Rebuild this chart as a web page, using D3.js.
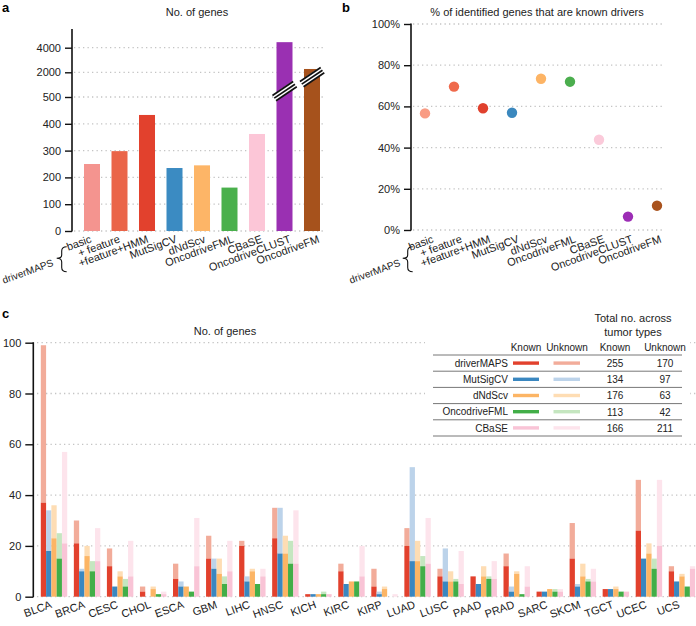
<!DOCTYPE html>
<html><head><meta charset="utf-8">
<script src="https://cdn.jsdelivr.net/npm/d3@7"></script>
<style>
html,body{margin:0;padding:0;background:#fff;}
svg{display:block;font-family:"Liberation Sans",Arial,Helvetica,sans-serif;}
.tick text{font-size:11px;fill:#222;}
</style></head>
<body>
<svg id="chart" width="696" height="626"></svg>
<script>
// ---------- Panel a / b data ----------
const methods = ["basic","+ feature","+feature+HMM","MutSigCV","dNdScv","OncodriveFML","CBaSE","OncodriveCLUST","OncodriveFM"];
const geneCounts = [250,298,433,235,245,162,362,4450,2270];
const knownPct = [56.6,69.6,59.1,56.9,73.4,72.0,43.8,6.5,11.8];
const colorsA = ["#f4948f","#ea6549","#e2412d","#3b8bc2","#fdb567","#4ab04c","#fcc6d7","#9a30b2","#a6521c"];
const colorsB = ["#f99c84","#ef6a4c","#e0412d","#3b88be","#fdb465","#4bae4e","#fbcada","#9c2db5","#a9531e"];
const aTicks = [0,100,200,300,400,500,2000,4000];
const bTicks = [0,20,40,60,80,100];
const brokenBars = ["OncodriveCLUST","OncodriveFM"];

// ---------- Panel c data ----------
const cancerTypes = ["BLCA","BRCA","CESC","CHOL","ESCA","GBM","LIHC","HNSC","KICH","KIRC","KIRP","LUAD","LUSC","PAAD","PRAD","SARC","SKCM","TGCT","UCEC","UCS"];
const cMethods = ["driverMAPS","MutSigCV","dNdScv","OncodriveFML","CBaSE"];
const driverMAPSKnown   = [37,21,12,2,7,15,20,23,1,10,4,20,8,8,12,2,15,3,26,10];
const driverMAPSUnknown = [62,9,7,2,6,9,2,12,0,3,7,7,3,0,5,0,14,0,20,2];
const mutSigCVKnown     = [18,10,4,0,4,11,6,17,1,5,1,14,6,5,2,2,4,3,15,6];
const mutSigCVUnknown   = [16,1,0,0,2,4,2,18,0,0,1,37,13,0,2,0,1,0,0,0];
const dNdScvKnown       = [23,16,8,3,4,9,10,17,1,6,3,14,6,8,9,3,8,3,17,8];
const dNdScvUnknown     = [13,4,2,1,0,6,1,7,0,0,1,8,4,4,1,0,5,1,4,1];
const fmlKnown          = [15,10,4,1,2,5,5,13,1,6,0,12,6,7,1,2,6,2,11,4];
const fmlUnknown        = [10,4,3,0,0,3,0,9,1,0,0,4,1,1,0,1,1,0,4,0];
const cbaseKnown        = [21,14,8,1,12,10,8,13,1,8,0,13,5,7,4,2,6,2,20,11];
const cbaseUnknown      = [36,13,14,1,19,12,3,21,0,12,1,18,13,7,8,1,5,0,26,1];
const knownColors   = ["#e2412d","#3a87c0","#fcb565","#42ae48","#f9c4d6"];
const unknownColors = ["#f2ac9a","#bcd3ea","#feddb4","#c5e6c0","#fde4ec"];
const totalKnown   = [255,134,176,113,166];
const totalUnknown = [170,97,63,42,211];
const cTicks = [0,20,40,60,80,100];

const knownByMethod = [driverMAPSKnown,mutSigCVKnown,dNdScvKnown,fmlKnown,cbaseKnown];
const unknownByMethod = [driverMAPSUnknown,mutSigCVUnknown,dNdScvUnknown,fmlUnknown,cbaseUnknown];

const svg = d3.select("#chart");
const GRID = "#c4c4c4";

function grid(g, ys, x0, x1){
  g.selectAll(null).data(ys).enter().append("line")
    .attr("x1",x0).attr("x2",x1).attr("y1",d=>d).attr("y2",d=>d)
    .attr("stroke",GRID).attr("stroke-width",1.3).attr("stroke-dasharray","1.3,3.2");
}
function styleAxis(g){
  g.select(".domain").remove();
  g.selectAll(".tick line").attr("stroke","#111").attr("stroke-width",1.4);
}
function brace(g, dx, tdx){
  const p = "M66.7,246.7 Q61.7,246.7 61.7,251 L61.7,255 Q61.7,258.3 56.7,258.3 Q61.7,258.3 61.7,262 L61.7,267.5 Q61.7,271.7 66.7,271.7";
  g.append("path").attr("d",p).attr("transform",`translate(${dx},0)`)
    .attr("fill","none").attr("stroke","#111").attr("stroke-width",1.1);
  g.append("text").attr("transform",`translate(${54+tdx},265.5) rotate(-20)`)
    .attr("text-anchor","end").attr("font-size",10).attr("fill","#222").text("driverMAPS");
}

// ================= Panel a =================
const ga = svg.append("g");
ga.append("text").attr("x",2).attr("y",12).attr("font-size",13).attr("font-weight","bold").text("a");
ga.append("text").attr("x",197).attr("y",16).attr("text-anchor","middle").attr("font-size",11).attr("fill","#222").text("No. of genes");
const yA = d3.scaleLinear().domain([0,500,2000,4000]).range([231,97,72.3,47.7]);
const xA = d3.scaleBand().domain(methods).range([75.75,328.25]).paddingInner(0.418).paddingOuter(0.3);
const xLabA = d3.scalePoint().domain(methods).range([92.3,320]);
grid(ga, aTicks.map(t=>yA(t)), 74, 323);
ga.selectAll("rect.bar").data(methods).enter().append("rect")
  .attr("x",d=>xA(d)).attr("width",xA.bandwidth())
  .attr("y",(d,i)=>yA(geneCounts[i])).attr("height",(d,i)=>yA(0)-yA(geneCounts[i]))
  .attr("fill",(d,i)=>colorsA[i]);
// axis break marks
const breakOffsets = [6,20];
brokenBars.forEach((m,k)=>{
  const cx = xA(m)+xA.bandwidth()/2, cy = yA(500)-breakOffsets[k];
  const bg = ga.append("g").attr("transform",`translate(${cx},${cy}) rotate(-34)`);
  bg.append("rect").attr("x",-12.5).attr("y",-3.6).attr("width",25).attr("height",7.2).attr("fill","#fff");
  [-3,0.2,3.4].forEach(o=>{ bg.append("line").attr("x1",-12.5).attr("x2",12.5).attr("y1",o).attr("y2",o).attr("stroke","#111").attr("stroke-width",1.7); });
});
const axA = ga.append("g").attr("transform","translate(72,0)")
  .call(d3.axisLeft(yA).tickValues(aTicks).tickSize(7).tickPadding(4).tickSizeOuter(0).tickFormat(d3.format("d")));
styleAxis(axA);
ga.append("line").attr("x1",72).attr("x2",72).attr("y1",29).attr("y2",231.5).attr("stroke","#111").attr("stroke-width",1.6);
ga.selectAll("text.xl").data(methods).enter().append("text")
  .attr("transform",d=>`translate(${xLabA(d)},242) rotate(-20)`)
  .attr("text-anchor","end").attr("font-size",11).attr("fill","#222").text(d=>d);
brace(ga,0,0);

// ================= Panel b =================
const gb = svg.append("g");
gb.append("text").attr("x",342).attr("y",12).attr("font-size",13).attr("font-weight","bold").text("b");
gb.append("text").attr("x",537).attr("y",16).attr("text-anchor","middle").attr("font-size",11).attr("fill","#222").text("% of identified genes that are known drivers");
const yB = d3.scaleLinear().domain([0,100]).range([230,24]);
const xB = d3.scalePoint().domain(methods).range([425,657]);
const xLabB = d3.scalePoint().domain(methods).range([434.3,662]);
grid(gb, bTicks.map(t=>yB(t)), 413, 664);
const axB = gb.append("g").attr("transform","translate(411,0)")
  .call(d3.axisLeft(yB).tickValues(bTicks).tickSize(7).tickPadding(4).tickSizeOuter(0).tickFormat(d=>d+"%"));
styleAxis(axB);
gb.append("line").attr("x1",411).attr("x2",411).attr("y1",23.5).attr("y2",230.5).attr("stroke","#111").attr("stroke-width",1.6);
gb.selectAll("circle").data(methods).enter().append("circle")
  .attr("cx",d=>xB(d)).attr("cy",(d,i)=>yB(knownPct[i])).attr("r",5.2)
  .attr("fill",(d,i)=>colorsB[i]);
gb.selectAll("text.xl").data(methods).enter().append("text")
  .attr("transform",d=>`translate(${xLabB(d)},242) rotate(-20)`)
  .attr("text-anchor","end").attr("font-size",11).attr("fill","#222").text(d=>d);
brace(gb,346,347);

// ================= Panel c =================
const gc = svg.append("g");
gc.append("text").attr("x",2).attr("y",318).attr("font-size",13).attr("font-weight","bold").text("c");
gc.append("text").attr("x",225).attr("y",335).attr("text-anchor","middle").attr("font-size",11).attr("fill","#222").text("No. of genes");
const yC = d3.scaleLinear().domain([0,100]).range([596.7,342.7]);
const xC = d3.scaleBand().domain(cancerTypes).range([37.5,698.5]).paddingInner(0.2).paddingOuter(0.1);
const xIn = d3.scaleBand().domain(cMethods).range([0,xC.bandwidth()]);
grid(gc, cTicks.map(t=>yC(t)), 37, 696);
const axC = gc.append("g").attr("transform","translate(33.3,0)")
  .call(d3.axisLeft(yC).tickValues(cTicks).tickSize(8).tickPadding(4).tickSizeOuter(0));
styleAxis(axC);
gc.append("line").attr("x1",33.3).attr("x2",33.3).attr("y1",342.2).attr("y2",597.2).attr("stroke","#111").attr("stroke-width",1.6);

cancerTypes.forEach((ct,i)=>{
  const g = gc.append("g").attr("transform",`translate(${xC(ct)},0)`);
  cMethods.forEach((m,j)=>{
    const k = knownByMethod[j][i], u = unknownByMethod[j][i];
    if(u>0) g.append("rect").attr("x",xIn(m)).attr("width",xIn.bandwidth())
      .attr("y",yC(k+u)).attr("height",yC(k)-yC(k+u)).attr("fill",unknownColors[j]);
    if(k>0) g.append("rect").attr("x",xIn(m)).attr("width",xIn.bandwidth())
      .attr("y",yC(k)).attr("height",yC(0)-yC(k)).attr("fill",knownColors[j]);
  });
});
gc.selectAll("text.xl").data(cancerTypes).enter().append("text")
  .attr("transform",d=>`translate(${xC(d)+xC.bandwidth()/2-1.5},607.5) rotate(-20)`)
  .attr("text-anchor","end").attr("font-size",11).attr("fill","#222").text(d=>d);

// ---- legend table ----
const gt = gc.append("g");
gt.append("rect").attr("x",425).attr("y",312).attr("width",265).attr("height",126).attr("fill","#fff");
gt.append("text").attr("x",633).attr("y",322).attr("text-anchor","middle").attr("font-size",11).attr("fill","#222").text("Total no. across");
gt.append("text").attr("x",633).attr("y",336).attr("text-anchor","middle").attr("font-size",11).attr("fill","#222").text("tumor types");
const headX = [526,567,615,665];
["Known","Unknown","Known","Unknown"].forEach((h,i)=>{
  gt.append("text").attr("x",headX[i]).attr("y",351).attr("text-anchor","middle").attr("font-size",10).attr("fill","#222").text(h);
});
const rowY = d3.scaleBand().domain(cMethods).range([355,436]);
gt.append("line").attr("x1",433).attr("x2",682).attr("y1",355).attr("y2",355).attr("stroke","#777").attr("stroke-width",1);
cMethods.forEach((m,j)=>{
  const yc = rowY(m)+rowY.bandwidth()/2;
  gt.append("text").attr("x",508).attr("y",yc+3.6).attr("text-anchor","end").attr("font-size",10).attr("fill","#222").text(m);
  gt.append("line").attr("x1",513).attr("x2",539).attr("y1",yc).attr("y2",yc).attr("stroke",knownColors[j]).attr("stroke-width",3.4);
  gt.append("line").attr("x1",553.5).attr("x2",580).attr("y1",yc).attr("y2",yc).attr("stroke",unknownColors[j]).attr("stroke-width",3.4);
  gt.append("text").attr("x",615).attr("y",yc+3.8).attr("text-anchor","middle").attr("font-size",10).attr("fill","#222").text(totalKnown[j]);
  gt.append("text").attr("x",665).attr("y",yc+3.8).attr("text-anchor","middle").attr("font-size",10).attr("fill","#222").text(totalUnknown[j]);
  gt.append("line").attr("x1",433).attr("x2",682).attr("y1",rowY(m)+rowY.bandwidth()).attr("y2",rowY(m)+rowY.bandwidth()).attr("stroke","#777").attr("stroke-width",1);
});
</script>
</body></html>
